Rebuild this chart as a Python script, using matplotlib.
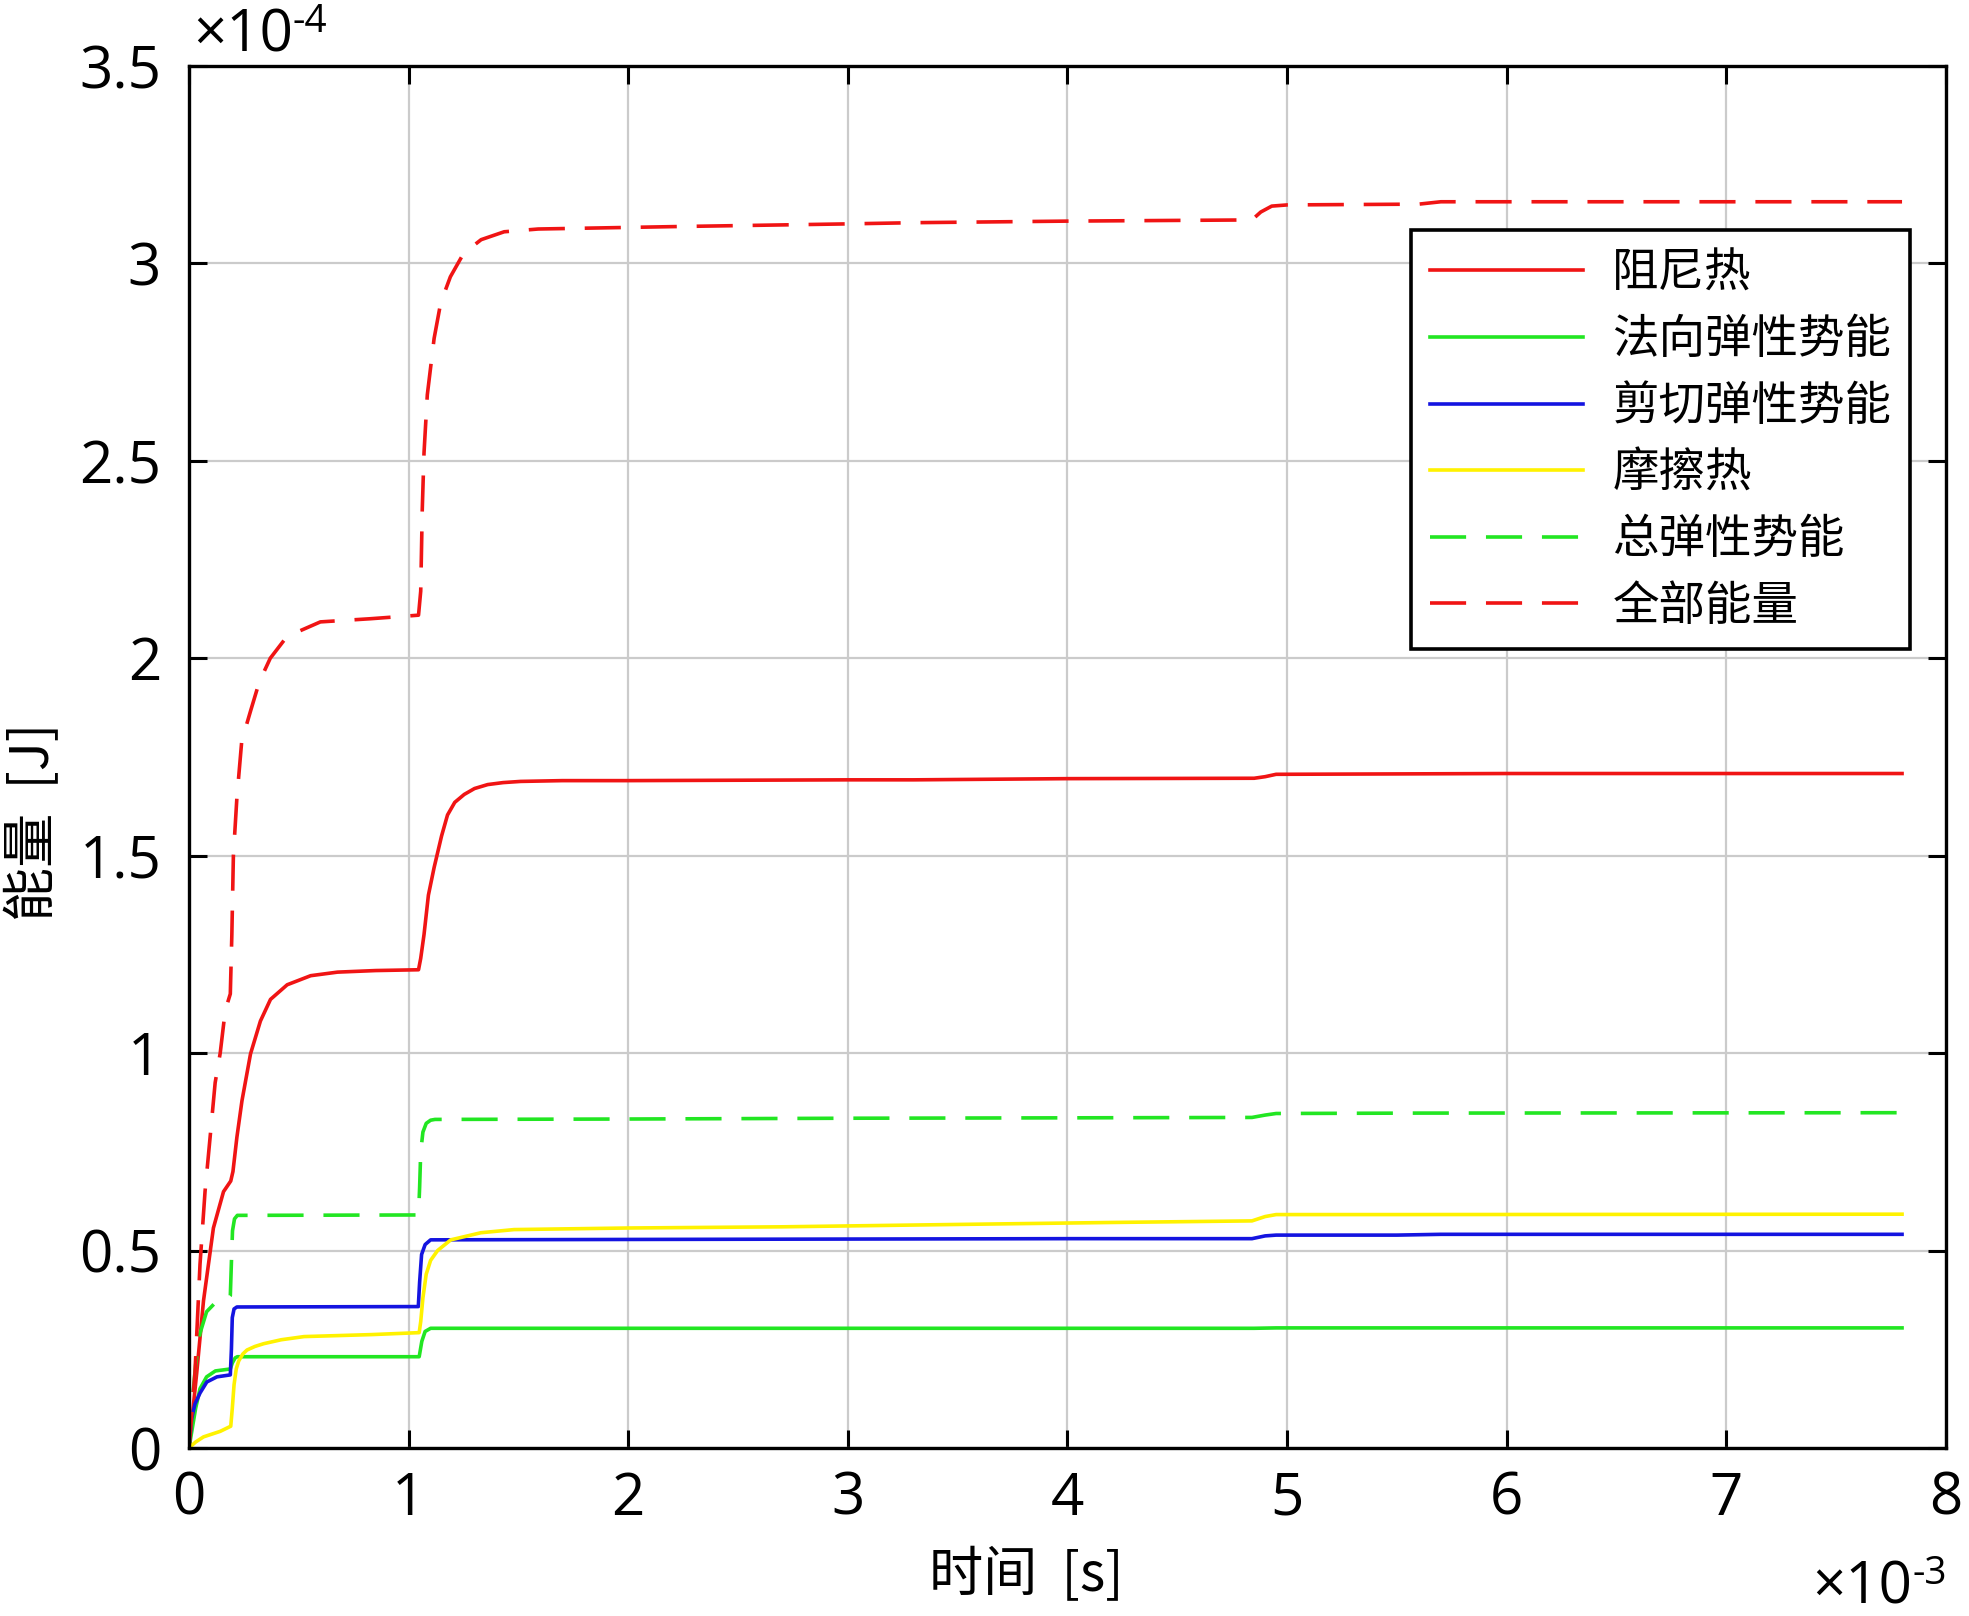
import matplotlib
matplotlib.use("Agg")
import matplotlib.pyplot as plt

plt.rcParams["font.family"] = ["Noto Sans CJK SC", "DejaVu Sans"]

# time in units of 1e-3 s, energy in units of 1e-4 J
t_damp = [0, 0.035, 0.066, 0.111, 0.157, 0.19, 0.2, 0.218, 0.241, 0.28, 0.325, 0.371, 0.447,
          0.554, 0.676, 0.85, 1.045, 1.055, 1.07, 1.09, 1.116, 1.15, 1.177, 1.21, 1.253, 1.3,
          1.36, 1.43, 1.51, 1.7, 2.0, 3.0, 3.3, 4.0, 4.85, 4.9, 4.95, 5.5, 6.0, 7.0, 7.8]
e_damp = [0, 0.19, 0.373, 0.557, 0.649, 0.676, 0.70, 0.787, 0.879, 0.998, 1.081, 1.136, 1.173,
          1.196, 1.205, 1.209, 1.211, 1.24, 1.30, 1.40, 1.47, 1.55, 1.603, 1.635, 1.655, 1.67,
          1.68, 1.685, 1.688, 1.69, 1.69, 1.692, 1.692, 1.695, 1.696, 1.700, 1.706, 1.707, 1.708,
          1.708, 1.708]

t_norm = [0, 0.015, 0.03, 0.05, 0.08, 0.12, 0.188, 0.197, 0.21, 0.22, 1.048, 1.06, 1.075, 1.1,
          2.0, 4.85, 4.95, 7.8]
e_norm = [0, 0.05, 0.10, 0.15, 0.18, 0.195, 0.20, 0.215, 0.228, 0.231, 0.231, 0.27, 0.295, 0.303,
          0.303, 0.303, 0.304, 0.304]

t_shear = [0, 0.012, 0.027, 0.05, 0.081, 0.127, 0.188, 0.193, 0.197, 0.205, 0.218, 1.044, 1.05,
           1.059, 1.075, 1.1, 2.0, 3.0, 4.0, 4.84, 4.9, 4.95, 5.5, 5.7, 7.8]
e_shear = [0, 0.074, 0.111, 0.139, 0.167, 0.18, 0.185, 0.25, 0.33, 0.352, 0.357, 0.358, 0.42,
           0.49, 0.515, 0.527, 0.528, 0.529, 0.53, 0.530, 0.537, 0.539, 0.539, 0.541, 0.541]

t_fric = [0, 0.03, 0.066, 0.142, 0.19, 0.197, 0.205, 0.215, 0.226, 0.245, 0.264, 0.3, 0.34, 0.42,
          0.524, 0.829, 1.048, 1.055, 1.065, 1.08, 1.1, 1.132, 1.192, 1.329, 1.48, 2.0, 2.7, 3.5,
          4.2, 4.84, 4.9, 4.95, 5.5, 7.8]
e_fric = [0, 0.015, 0.028, 0.042, 0.055, 0.10, 0.16, 0.20, 0.22, 0.238, 0.248, 0.257, 0.264,
          0.274, 0.282, 0.287, 0.292, 0.32, 0.38, 0.44, 0.475, 0.50, 0.527, 0.545, 0.553, 0.557,
          0.560, 0.566, 0.571, 0.575, 0.586, 0.591, 0.591, 0.592]

t_elas = [0, 0.015, 0.03, 0.05, 0.08, 0.12, 0.17, 0.188, 0.193, 0.198, 0.207, 0.22, 1.045, 1.05,
          1.055, 1.065, 1.08, 1.1, 1.12, 2.0, 3.0, 4.0, 4.84, 4.9, 4.95, 5.6, 7.8]
e_elas = [0, 0.12, 0.21, 0.29, 0.345, 0.368, 0.372, 0.385, 0.47, 0.55, 0.58, 0.589, 0.59, 0.66,
          0.75, 0.80, 0.822, 0.83, 0.832, 0.833, 0.835, 0.836, 0.837, 0.843, 0.847, 0.848, 0.849]

t_total = [0, 0.027, 0.05, 0.073, 0.096, 0.119, 0.142, 0.165, 0.188, 0.195, 0.202, 0.218, 0.24,
           0.28, 0.32, 0.37, 0.446, 0.598, 0.826, 1.045, 1.055, 1.062, 1.07, 1.085, 1.116, 1.146,
           1.19, 1.25, 1.33, 1.435, 1.59, 2.2, 3.0, 3.3, 4.0, 4.84, 4.88, 4.93, 5.0, 5.6, 5.7, 7.8]
e_total = [0, 0.19, 0.465, 0.65, 0.787, 0.925, 1.0, 1.108, 1.15, 1.30, 1.50, 1.647, 1.79, 1.866,
           1.94, 2.0, 2.055, 2.092, 2.10, 2.109, 2.17, 2.376, 2.52, 2.667, 2.81, 2.90, 2.966,
           3.025, 3.06, 3.08, 3.087, 3.093, 3.10, 3.103, 3.107, 3.110, 3.13, 3.145, 3.148, 3.150,
           3.156, 3.156]

labels = ["阻尼热", "法向弹性势能", "剪切弹性势能", "摩擦热", "总弹性势能", "全部能量"]
x_ticks = [0, 1, 2, 3, 4, 5, 6, 7, 8]
y_ticks = [0, 0.5, 1, 1.5, 2, 2.5, 3, 3.5]
y_tick_labels = ["0", "0.5", "1", "1.5", "2", "2.5", "3", "3.5"]

RED = "#f01414"
GREEN = "#22e622"
BLUE = "#1414e0"
YELLOW = "#fff200"
DASH = (0, (10, 5.5))
LW = 2.6

fig = plt.figure(figsize=(19.69, 16.16), dpi=100)
ax = fig.add_axes([0.096, 0.104, 0.8923, 0.8552])

ax.plot(t_damp, e_damp, color=RED, lw=LW, label=labels[0])
ax.plot(t_norm, e_norm, color=GREEN, lw=LW, label=labels[1])
ax.plot(t_shear, e_shear, color=BLUE, lw=LW, label=labels[2])
ax.plot(t_fric, e_fric, color=YELLOW, lw=LW, label=labels[3])
ax.plot(t_elas, e_elas, color=GREEN, lw=LW, ls=DASH, label=labels[4])
ax.plot(t_total, e_total, color=RED, lw=LW, ls=DASH, label=labels[5])

ax.set_xlim(0, 8)
ax.set_ylim(0, 3.5)
ax.set_xticks(x_ticks)
ax.set_xticklabels([str(v) for v in x_ticks])
ax.set_yticks(y_ticks)
ax.set_yticklabels(y_tick_labels)
ax.tick_params(direction="in", length=13, width=2.2, top=True, right=True, labelsize=42)
ax.tick_params(axis="x", pad=16)
ax.tick_params(axis="y", pad=20)
for lab in ax.get_xticklabels() + ax.get_yticklabels():
    lab.set_fontfamily(["Open Sans", "DejaVu Sans"])

ax.set_axisbelow(True)
ax.grid(True, color="#cbcbcb", lw=1.6)
for sp in ax.spines.values():
    sp.set_linewidth(2.4)

leg = ax.legend(loc="upper right", bbox_to_anchor=(0.9795, 0.881), borderaxespad=0,
                fontsize=33.5, handlelength=3.3, handletextpad=0.62, borderpad=0.4,
                labelspacing=0.39, fancybox=False, framealpha=1, edgecolor="black")
leg.get_frame().set_linewidth(2.6)

# axis labels and scale factors
fig.text(1026 / 1969, 1 - 1576 / 1616, "时间  [s]", ha="center", va="center", fontsize=39)
fig.text(34 / 1969, 1 - 822 / 1616, "能量  [J]", ha="center", va="center", fontsize=39,
         rotation=90)

sci = dict(family=["Open Sans", "DejaVu Sans"])
fig.text(193 / 1969, 1 - 52 / 1616, "×10", ha="left", va="baseline", fontsize=42, **sci)
fig.text(293 / 1969, 1 - 32 / 1616, "-4", ha="left", va="baseline", fontsize=28, **sci)
fig.text(1812 / 1969, 1 - 1603 / 1616, "×10", ha="left", va="baseline", fontsize=42, **sci)
fig.text(1912 / 1969, 1 - 1584 / 1616, "-3", ha="left", va="baseline", fontsize=28, **sci)

fig.savefig("out.png", dpi=100)
